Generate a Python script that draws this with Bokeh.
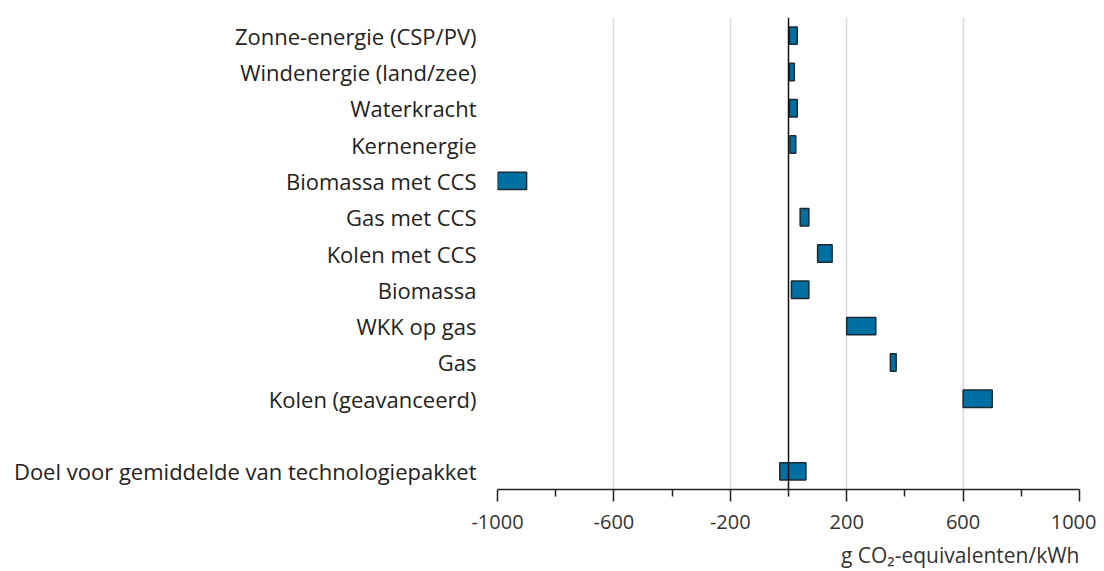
from bokeh.plotting import figure
from bokeh.models import FactorRange, Range1d, FixedTicker, Span, Title
from bokeh.embed import file_html
from bokeh.resources import INLINE

technologies = [
    "Zonne-energie (CSP/PV)",
    "Windenergie (land/zee)",
    "Waterkracht",
    "Kernenergie",
    "Biomassa met CCS",
    "Gas met CCS",
    "Kolen met CCS",
    "Biomassa",
    "WKK op gas",
    "Gas",
    "Kolen (geavanceerd)",
]
low_values = [3, 3, 3, 5, -1000, 40, 100, 10, 200, 350, 600]
high_values = [30, 20, 30, 25, -900, 70, 150, 70, 300, 370, 700]

target_label = "Doel voor gemiddelde van technologiepakket"
target_low = [-30]
target_high = [60]

x_ticks = [-1000, -600, -200, 200, 600, 1000]
x_tick_labels = ["-1000", "-600", "-200", "200", "600", "1000"]
x_minor_ticks = [-800, -400, 0, 400, 800]
x_title = "g CO\u2082-equivalenten/kWh"

spacer = " "
factors = list(reversed(technologies + [spacer, target_label]))

FONT = "Open Sans"

p = figure(
    y_range=FactorRange(factors=factors),
    x_range=Range1d(-1000, 1000),
    frame_width=582,
    frame_height=472,
    min_border_left=497,
    min_border_right=17,
    min_border_top=17,
    min_border_bottom=0,
    output_backend="svg",
    toolbar_location=None,
)
p.outline_line_color = None
p.background_fill_color = "white"

# grid
p.ygrid.grid_line_color = None
p.xgrid.ticker = FixedTicker(ticks=x_ticks)
p.xgrid.grid_line_color = "#d9d9d9"
p.xgrid.grid_line_width = 1.5

# x axis
p.xaxis.ticker = FixedTicker(ticks=x_ticks, minor_ticks=x_minor_ticks)
p.xaxis.major_label_overrides = {t: l for t, l in zip(x_ticks, x_tick_labels)}
p.xaxis.axis_line_color = "#222222"
p.xaxis.axis_line_width = 1.5
p.xaxis.major_tick_line_color = "#222222"
p.xaxis.major_tick_line_width = 1.5
p.xaxis.major_tick_out = 12
p.xaxis.major_tick_in = 0
p.xaxis.minor_tick_line_color = "#222222"
p.xaxis.minor_tick_line_width = 1.5
p.xaxis.minor_tick_out = 7
p.xaxis.minor_tick_in = 0
p.xaxis.major_label_text_font = FONT
p.xaxis.major_label_text_font_size = "20px"
p.xaxis.major_label_text_color = "#333333"
p.xaxis.major_label_standoff = 13

# y axis
p.yaxis.axis_line_color = None
p.yaxis.major_tick_line_color = None
p.yaxis.minor_tick_line_color = None
p.yaxis.major_label_text_font = FONT
p.yaxis.major_label_text_font_size = "22px"
p.yaxis.major_label_text_color = "#222222"
p.yaxis.major_label_standoff = 15

# zero line
p.add_layout(Span(location=0, dimension="height", line_color="#111111", line_width=1.5))

bar_fill = "#0070a2"
bar_line = "#1c2a33"

p.hbar(y=technologies, left=low_values, right=high_values, height=0.48,
       fill_color=bar_fill, line_color=bar_line, line_width=1.5)
p.hbar(y=[target_label], left=target_low, right=target_high, height=0.48,
       fill_color=bar_fill, line_color=bar_line, line_width=1.5)

t = Title(text=x_title, align="right", text_font=FONT, text_font_size="21px",
          text_font_style="normal", text_color="#333333", offset=0, standoff=14)
p.add_layout(t, "below")

open("out.html", "w").write(file_html(p, INLINE))
